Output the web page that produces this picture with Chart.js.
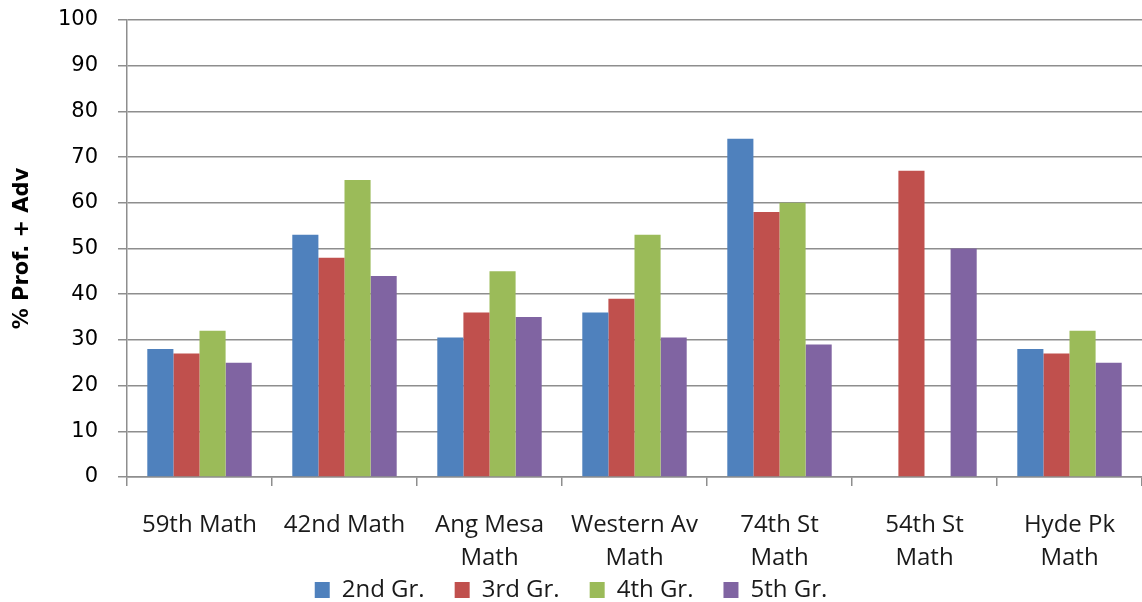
<!DOCTYPE html>
<html lang="en">
<head>
    <meta charset="UTF-8">
    <title>% Prof. + Adv by school</title>
    <style>
        html, body { margin: 0; padding: 0; background: #fff; overflow: hidden; }
        #wrap { width: 1142px; height: 637px; }
    </style>
</head>
<body>
    <div id="wrap"><canvas id="profChart"></canvas></div>

    <script src="https://cdn.jsdelivr.net/npm/chart.js"></script>
    <script>
        // data
        const schools = [
            '59th Math', '42nd Math', ['Ang Mesa', 'Math'], ['Western Av', 'Math'],
            ['74th St', 'Math'], ['54th St', 'Math'], ['Hyde Pk', 'Math']
        ];
        const grade2 = [28, 53, 30.5, 36, 74, null, 28];
        const grade3 = [27, 48, 36, 39, 58, 67, 27];
        const grade4 = [32, 65, 45, 53, 60, null, 32];
        const grade5 = [25, 44, 35, 30.5, 29, 50, 25];
        const yTicks = [0, 10, 20, 30, 40, 50, 60, 70, 80, 90, 100];

        const gridGray = '#8e8e8e';

        // pull the legend up under the two-line category labels
        const legendLift = {
            id: 'legendLift',
            afterLayout(chart) {
                const lg = chart.legend;
                if (!lg) return;
                lg.top -= 25;
                lg.bottom -= 25;
            }
        };

        const ctx = document.getElementById('profChart').getContext('2d');
        new Chart(ctx, {
            type: 'bar',
            data: {
                labels: schools,
                datasets: [
                    { label: '2nd Gr.', data: grade2, backgroundColor: '#4F81BD' },
                    { label: '3rd Gr.', data: grade3, backgroundColor: '#C0504D' },
                    { label: '4th Gr.', data: grade4, backgroundColor: '#9BBB59' },
                    { label: '5th Gr.', data: grade5, backgroundColor: '#8064A2' }
                ]
            },
            options: {
                responsive: true,
                maintainAspectRatio: false,
                animation: false,
                layout: { padding: { top: 20, right: 0, left: 0, bottom: 0 } },
                datasets: { bar: { categoryPercentage: 0.72, barPercentage: 1.0 } },
                plugins: {
                    tooltip: { enabled: false },
                    legend: {
                        position: 'bottom',
                        labels: {
                            boxWidth: 15,
                            boxHeight: 16,
                            padding: 30,
                            color: '#1a1a1a',
                            font: { family: 'Open Sans', size: 24 }
                        }
                    }
                },
                scales: {
                    x: {
                        afterFit: s => { s.height = 96; },
                        grid: { drawOnChartArea: false, tickLength: 9, color: gridGray, lineWidth: 1.5 },
                        border: { color: gridGray, width: 1.5 },
                        ticks: {
                            padding: 23,
                            maxRotation: 0,
                            autoSkip: false,
                            color: '#1a1a1a',
                            font: { family: 'Open Sans', size: 24, lineHeight: 1.375 }
                        }
                    },
                    y: {
                        min: 0,
                        max: 100,
                        afterFit: s => { s.width = 127; s.paddingTop = 0; s.paddingBottom = 0; },
                        afterBuildTicks: s => { s.ticks = yTicks.map(v => ({ value: v })); },
                        grid: { color: gridGray, lineWidth: 1.5, tickLength: 9 },
                        border: { color: gridGray, width: 1.5 },
                        ticks: {
                            padding: 20,
                            color: '#000',
                            font: { family: 'DejaVu Sans', size: 21 }
                        },
                        title: {
                            display: true,
                            text: '% Prof. + Adv',
                            color: '#000',
                            padding: { top: 10, bottom: 0 },
                            font: { family: 'DejaVu Sans', size: 21, weight: 'bold' }
                        }
                    }
                }
            },
            plugins: [legendLift]
        });
    </script>
</body>
</html>
